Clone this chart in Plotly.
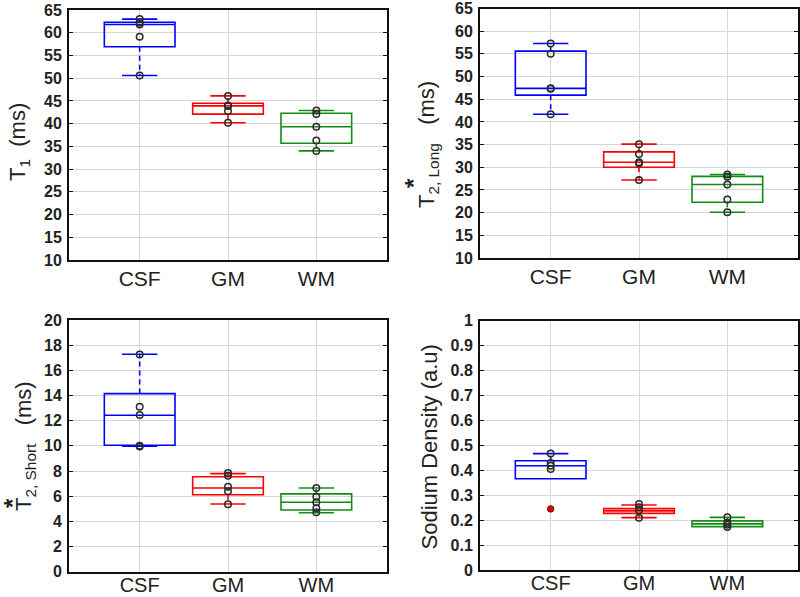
import plotly.graph_objects as go

categories = ["CSF", "GM", "WM"]
colors = ["rgb(0,0,255)", "rgb(255,0,0)", "rgb(20,140,20)"]

# ---- T1 (ms) ----
t1_q1 = [56.9, 42.1, 35.7]
t1_med = [61.8, 43.9, 39.3]
t1_q3 = [62.3, 44.5, 42.3]
t1_lo = [50.6, 40.2, 34.0]
t1_hi = [63.0, 46.1, 42.9]
t1_pts = [[63.0, 62.2, 61.8, 59.1, 50.6],
          [46.1, 44.0, 43.9, 42.8, 40.2],
          [42.9, 42.1, 39.3, 36.3, 34.0]]
t1_out = [[], [], []]

# ---- T2* Long (ms) ----
tl_q1 = [45.9, 30.0, 22.3]
tl_med = [47.4, 31.1, 26.2]
tl_q3 = [55.6, 33.4, 28.0]
tl_lo = [41.7, 27.2, 20.1]
tl_hi = [57.3, 35.1, 28.4]
tl_pts = [[57.3, 55.0, 47.4, 47.3, 41.7],
          [35.1, 32.9, 31.1, 30.9, 27.2],
          [28.4, 27.9, 26.2, 22.9, 20.1]]
tl_out = [[], [], []]

# ---- T2* Short (ms) ----
ts_q1 = [10.05, 6.12, 4.9]
ts_med = [12.43, 6.65, 5.52]
ts_q3 = [14.15, 7.55, 6.18]
ts_lo = [9.97, 5.38, 4.69]
ts_hi = [17.28, 7.79, 6.65]
ts_pts = [[17.25, 13.1, 12.45, 10.0, 9.95],
          [7.85, 7.63, 6.76, 6.39, 5.36],
          [6.65, 5.96, 5.52, 5.04, 4.72]]
ts_out = [[], [], []]

# ---- Sodium Density (a.u) ----
na_q1 = [0.366, 0.227, 0.174]
na_med = [0.418, 0.237, 0.185]
na_q3 = [0.438, 0.246, 0.197]
na_lo = [0.366, 0.210, 0.174]
na_hi = [0.467, 0.261, 0.211]
na_pts = [[0.467, 0.429, 0.418, 0.405],
          [0.265, 0.252, 0.240, 0.210],
          [0.212, 0.190, 0.182, 0.172]]
na_out = [[0.245], [], []]

panels = [
    dict(q1=t1_q1, med=t1_med, q3=t1_q3, lo=t1_lo, hi=t1_hi, pts=t1_pts, out=t1_out),
    dict(q1=tl_q1, med=tl_med, q3=tl_q3, lo=tl_lo, hi=tl_hi, pts=tl_pts, out=tl_out),
    dict(q1=ts_q1, med=ts_med, q3=ts_q3, lo=ts_lo, hi=ts_hi, pts=ts_pts, out=ts_out),
    dict(q1=na_q1, med=na_med, q3=na_q3, lo=na_lo, hi=na_hi, pts=na_pts, out=na_out),
]

FONT = "Liberation Sans, Arial, sans-serif"
LW = 1.6
fig = go.Figure()

for k, p in enumerate(panels):
    xa = "x" if k == 0 else f"x{k+1}"
    ya = "y" if k == 0 else f"y{k+1}"
    for i in range(3):
        c = i + 1
        col = colors[i]
        q1, md, q3, lo, hi = p["q1"][i], p["med"][i], p["q3"][i], p["lo"][i], p["hi"][i]
        fig.add_trace(go.Box(
            x=[c], q1=[q1], median=[md], q3=[q3], lowerfence=[q1], upperfence=[q3],
            width=0.8, whiskerwidth=0, line=dict(color=col, width=LW),
            fillcolor="rgba(0,0,0,0)", boxpoints=False, xaxis=xa, yaxis=ya,
            showlegend=False, hoverinfo="skip"))
        fig.add_trace(go.Scatter(
            x=[c, c, None, c, c], y=[q3, hi, None, q1, lo], mode="lines",
            line=dict(color=col, width=LW, dash="5px,4px"), xaxis=xa, yaxis=ya,
            showlegend=False, hoverinfo="skip"))
        capx = [c - 0.2, c + 0.2]
        cap_x, cap_y = [], []
        if hi > q3:
            cap_x += capx + [None]
            cap_y += [hi, hi, None]
        if lo < q1:
            cap_x += capx + [None]
            cap_y += [lo, lo, None]
        if cap_x:
            fig.add_trace(go.Scatter(
                x=cap_x, y=cap_y, mode="lines", line=dict(color=col, width=LW),
                xaxis=xa, yaxis=ya, showlegend=False, hoverinfo="skip"))
        fig.add_trace(go.Scatter(
            x=[c] * len(p["pts"][i]), y=p["pts"][i], mode="markers",
            marker=dict(symbol="circle-open", size=6.5, color="#2a2a2a", line=dict(width=1.5)),
            xaxis=xa, yaxis=ya, showlegend=False, hoverinfo="skip"))
        if p["out"][i]:
            fig.add_trace(go.Scatter(
                x=[c] * len(p["out"][i]), y=p["out"][i], mode="markers",
                marker=dict(symbol="circle", size=6.5, color="rgb(230,0,0)",
                            line=dict(width=0.8, color="#400")),
                xaxis=xa, yaxis=ya, showlegend=False, hoverinfo="skip"))

W, H = 800, 597
def px_x(a, b):
    return [a / W, b / W]
def px_y(top, bottom):
    return [1 - bottom / H, 1 - top / H]

xdoms = [px_x(69, 387), px_x(480, 798), px_x(69, 387), px_x(480, 798)]
ydoms = [px_y(10, 260), px_y(8.5, 258), px_y(320, 571.7), px_y(320.7, 570)]
yranges = [[10, 65], [10, 65], [0, 20], [0, 1]]
ydticks = [5, 5, 2, 0.1]
xstandoff = [-1, -1, -6, -6]
xfontsize = [21, 21, 20, 20]

grid = "#d6d6d6"
layout = dict(
    width=W, height=H, margin=dict(l=0, r=0, t=0, b=0, autoexpand=False),
    paper_bgcolor="white", plot_bgcolor="white",
    font=dict(family=FONT, color="#222"),
)
for k in range(4):
    sx = "xaxis" if k == 0 else f"xaxis{k+1}"
    sy = "yaxis" if k == 0 else f"yaxis{k+1}"
    xa = "x" if k == 0 else f"x{k+1}"
    ya = "y" if k == 0 else f"y{k+1}"
    layout[sx] = dict(
        domain=xdoms[k], anchor=ya, range=[0.2, 3.8], automargin=False,
        tickmode="array", tickvals=[1, 2, 3], ticktext=categories,
        showgrid=True, gridcolor=grid, gridwidth=1, zeroline=False,
        showline=True, linecolor="#111", linewidth=2, mirror=True,
        ticks="", tickfont=dict(family=FONT, size=xfontsize[k], color="#222"),
        ticklabelstandoff=xstandoff[k],
    )
    layout[sy] = dict(
        domain=ydoms[k], anchor=xa, range=yranges[k], dtick=ydticks[k], tick0=0,
        automargin=False,
        showgrid=True, gridcolor=grid, gridwidth=1, zeroline=False,
        showline=True, linecolor="#111", linewidth=2, mirror="ticks",
        ticks="inside", ticklen=4, tickcolor="#111",
        tickfont=dict(family=FONT, size=16, color="#222", weight="bold"),
        ticklabelstandoff=2,
    )
fig.update_layout(**layout)

tfont = dict(family=FONT, size=22, color="#222")
titles = [
    ("T<sub>1</sub>  (ms)", 19, 142),
    ("T<sub>2, Long</sub>   (ms)", 428, 145),
    ("T<sub>2, Short</sub>   (ms)", 25, 446),
    ("Sodium Density (a.u)", 429, 447.5),
]
for txt, x, y in titles:
    fig.add_annotation(text=txt, x=x / W, y=1 - y / H, xref="paper", yref="paper",
                       textangle=-90, showarrow=False, xanchor="center", yanchor="middle",
                       font=tfont)
for x, y in [(413, 183), (13, 503)]:
    fig.add_annotation(text="<b>*</b>", x=x / W, y=1 - y / H, xref="paper", yref="paper",
                       textangle=-90, showarrow=False, xanchor="center", yanchor="middle",
                       font=dict(family=FONT, size=24, color="#222"))

post = (
    "document.documentElement.style.margin='0';"
    "document.body.style.margin='0';document.body.style.overflow='hidden';"
    "var gd=document.getElementById('{plot_id}');"
    "gd.style.position='fixed';gd.style.top='0px';gd.style.left='0px';"
)
fig.write_html("out.html", config={"displayModeBar": False}, post_script=post)
